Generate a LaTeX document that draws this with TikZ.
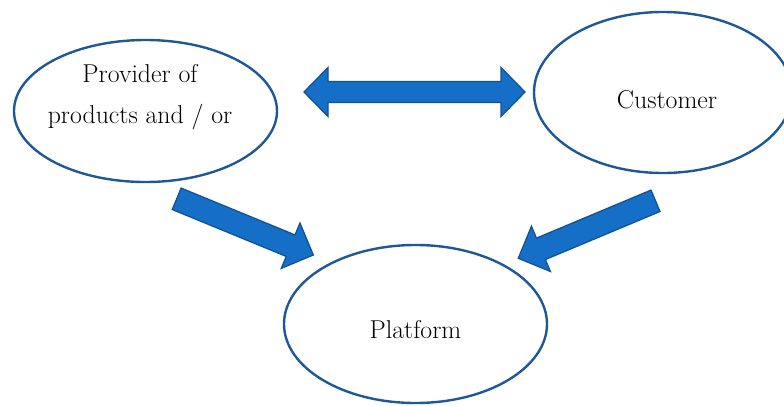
\documentclass[tikz,border=0pt]{standalone}
\usetikzlibrary{shapes.geometric,calc}
\definecolor{edgeblue}{RGB}{30,88,152}
\definecolor{fillblue}{RGB}{22,111,198}
\definecolor{arrowedge}{RGB}{18,82,150}
\tikzset{
  ell/.style={ellipse, draw=edgeblue, line width=2.4pt, inner sep=0pt},
  lbl/.style={font=\fontsize{25.8}{41}\selectfont, align=center, inner sep=0pt},
  barrow/.style={fill=fillblue, draw=arrowedge, line width=1.3pt, line join=miter},
}
\newcommand{\arrowgeom}[2]{%
  \path let \p1=($(#2)-(#1)$) in \pgfextra{%
    \pgfmathsetmacro\BAtmpa{atan2(\y1,\x1)}%
    \pgfmathsetmacro\BAtmpb{veclen(\x1,\y1)}%
    \xdef\BAang{\BAtmpa}\xdef\BAlen{\BAtmpb}};%
}
% single block arrow: tail, tip, shaft half width, head half width, head length
\newcommand{\blockarrow}[5]{%
  \arrowgeom{#1}{#2}%
  \filldraw[barrow, shift={(#1)}, rotate=\BAang]
    (0pt,-#3pt) -- ({\BAlen pt-#5pt},-#3pt) -- ({\BAlen pt-#5pt},-#4pt)
    -- (\BAlen pt,0pt) -- ({\BAlen pt-#5pt},#4pt) -- ({\BAlen pt-#5pt},#3pt)
    -- (0pt,#3pt) -- cycle;%
}
\newcommand{\dblockarrow}[5]{%
  \arrowgeom{#1}{#2}%
  \filldraw[barrow, shift={(#1)}, rotate=\BAang]
    (0pt,0pt) -- (#5pt,-#4pt) -- (#5pt,-#3pt) -- ({\BAlen pt-#5pt},-#3pt)
    -- ({\BAlen pt-#5pt},-#4pt) -- (\BAlen pt,0pt) -- ({\BAlen pt-#5pt},#4pt)
    -- ({\BAlen pt-#5pt},#3pt) -- (#5pt,#3pt) -- (#5pt,#4pt) -- cycle;%
}
\begin{document}
\begin{tikzpicture}[x=1pt,y=-1pt]
  \useasboundingbox (0,0) rectangle (784,405);
  \clip (0,0) rectangle (784,405);
  % ellipses
  \node[ell, minimum width=263pt, minimum height=142pt] (prov) at (145.5,111) {};
  \node[ell, minimum width=258pt, minimum height=161pt] (cust) at (663,92.5) {};
  \node[ell, minimum width=263pt, minimum height=158pt] (plat) at (415.5,324) {};
  % texts
  \node[lbl, anchor=base] (provt) at (140,123) {Provider of\\products and / or};
  \node[lbl, anchor=base] (custt) at (667,108) {Customer};
  \node[lbl, anchor=base] (platt) at (415.5,338) {Platform};
  % arrow end points
  \coordinate (dl) at (304,92);
  \coordinate (dr) at (525,92);
  \coordinate (a1tail) at (176.7,198.8);
  \coordinate (a1tip) at (313.3,255);
  \coordinate (a2tail) at (655.5,200.8);
  \coordinate (a2tip) at (518.3,258.3);
  % arrows
  \dblockarrow{dl}{dr}{10.5}{24.5}{24}
  \blockarrow{a1tail}{a1tip}{11.6}{24.5}{24.5}
  \blockarrow{a2tail}{a2tip}{11.6}{24.5}{24.5}
\end{tikzpicture}
\end{document}
